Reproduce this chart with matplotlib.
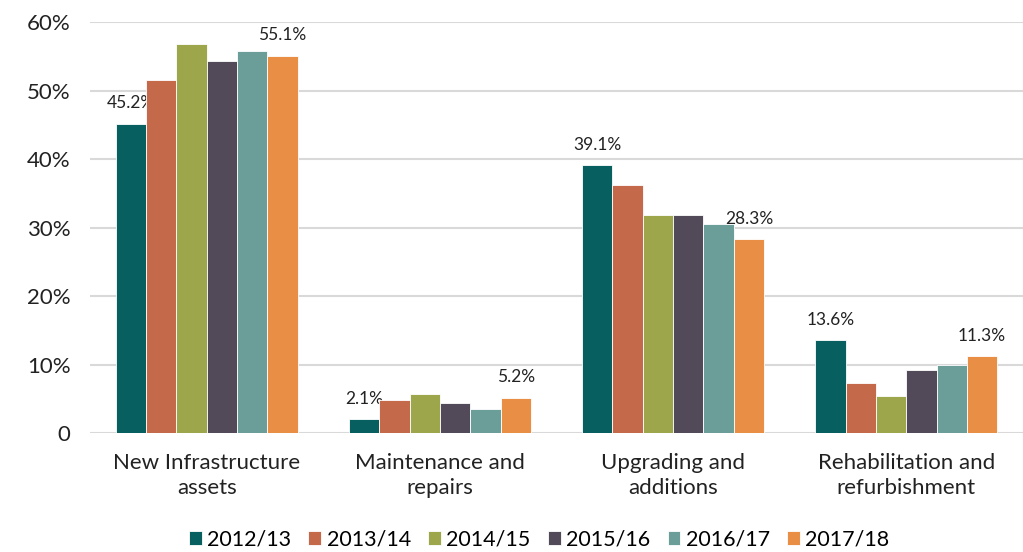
import numpy as np
import matplotlib
matplotlib.use("Agg")
import matplotlib.pyplot as plt
from matplotlib.ticker import FuncFormatter

categories = ["New Infrastructure\nassets", "Maintenance and\nrepairs",
              "Upgrading and\nadditions", "Rehabilitation and\nrefurbishment"]
years = ["2012/13", "2013/14", "2014/15", "2015/16", "2016/17", "2017/18"]
y2012 = [45.2, 2.1, 39.1, 13.6]
y2013 = [51.5, 4.8, 36.2, 7.3]
y2014 = [56.8, 5.7, 31.8, 5.5]
y2015 = [54.3, 4.4, 31.9, 9.2]
y2016 = [55.8, 3.5, 30.5, 10.0]
y2017 = [55.1, 5.2, 28.3, 11.3]
series = [y2012, y2013, y2014, y2015, y2016, y2017]
colors = ["#07605F", "#C46A4A", "#9EA64B", "#524A59", "#6B9E99", "#E98E45"]

plt.rcParams["font.family"] = ["Lato", "DejaVu Sans"]

fig = plt.figure(figsize=(10.23, 5.52), dpi=100)
ax = fig.add_axes([0.088, 0.215, 0.912, 0.745])

x = np.arange(len(categories))
width = 0.13
for i, (vals, c) in enumerate(zip(series, colors)):
    pos = x + (i - 2.5) * width
    ax.bar(pos, vals, width, color=c, label=years[i], edgecolor="white", linewidth=0.6, zorder=3)
    if i in (0, len(series) - 1):
        for p, v in zip(pos, vals):
            ax.text(p, v + 1.8, f"{v:.1f}%", ha="center", va="bottom", fontsize=12.5, color="#222222")

ax.set_xlim(-0.5, 3.5)
ax.set_ylim(0, 60)
ax.set_yticks(np.arange(0, 61, 10))
ax.yaxis.set_major_formatter(FuncFormatter(lambda v, _: "0" if v == 0 else f"{v:.0f}%"))
ax.grid(True, axis="y", color="#D9D9D9", linewidth=1.5, zorder=0)
for s in ax.spines.values():
    s.set_visible(False)
ax.tick_params(axis="both", length=0, labelsize=16, colors="#222222")
ax.tick_params(axis="y", pad=14)
ax.set_xticks(x)
ax.set_xticklabels(categories, linespacing=1.35)
ax.tick_params(axis="x", pad=14)

handles, labels = ax.get_legend_handles_labels()
fig.legend(handles, labels, loc="center", bbox_to_anchor=(0.527, 0.022), ncol=6, frameon=False,
           fontsize=15.5, handlelength=0.6, handleheight=0.6, handletextpad=0.25,
           columnspacing=0.8)

fig.savefig("out.png", dpi=100)
